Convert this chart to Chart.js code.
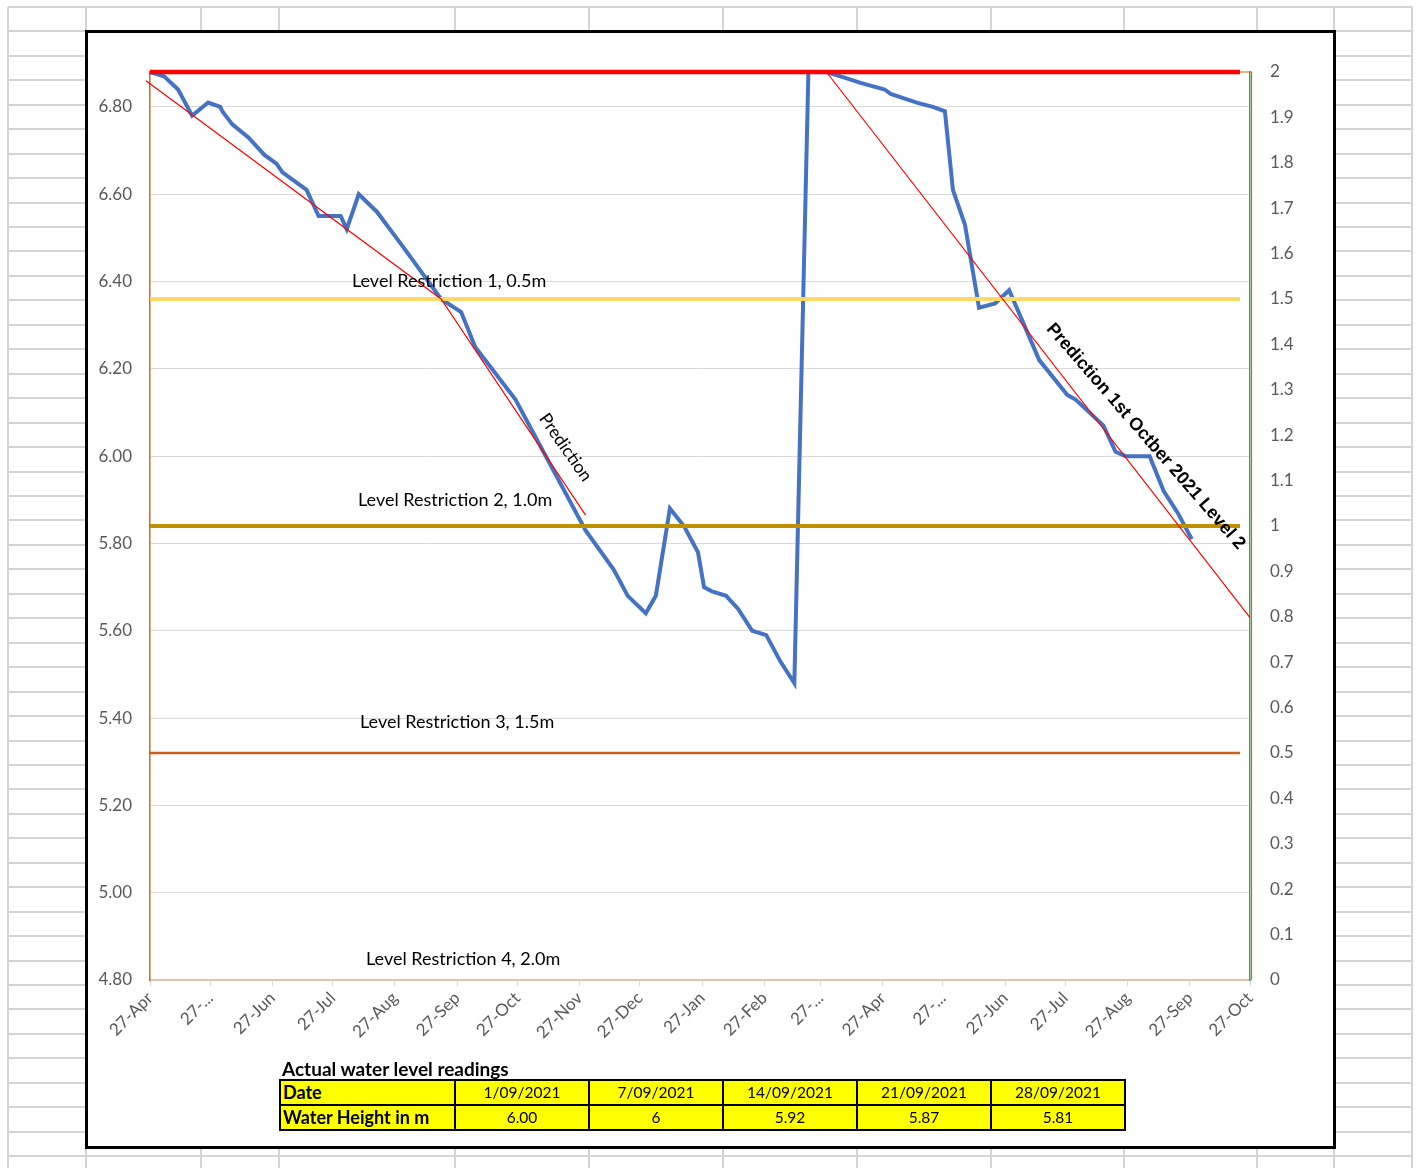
<!DOCTYPE html>
<html>
<head>
<meta charset="utf-8">
<title>Water level</title>
<script src="https://cdn.jsdelivr.net/npm/chart.js@4.4.0/dist/chart.umd.min.js"></script>
<style>
    html, body { margin: 0; padding: 0; background: #fff; }
    body { width: 1418px; height: 1168px; position: relative; overflow: hidden; font-family: Lato, "Noto Sans", sans-serif; }
    #sheet { position: absolute; left: 0; top: 0; }
    #frame { position: absolute; left: 85px; top: 30px; width: 1251px; height: 1119px; border: 3px solid #000; box-sizing: border-box; background: #fff; }
    #chartBox { position: absolute; left: 0; top: 0; width: 1245px; height: 1030px; }
    #tableTitle { position: absolute; left: 194px; top: 1024px; font-weight: bold; font-size: 19px; color: #000; }
    #readings { position: absolute; left: 191px; top: 1046px; border-collapse: collapse; font-size: 15.5px; table-layout: fixed; width: 845px; }
    #readings td { background: #ffff00; border: 2px solid #000; height: 23px; padding: 0 2px; text-align: center; line-height: 21px; overflow: hidden; white-space: nowrap; }
    #readings td.head { text-align: left; font-weight: bold; font-size: 18px; width: 169px; }
    #readings td.val { width: 128px; }
</style>
</head>
<body>
<canvas id="sheet" width="1418" height="1168"></canvas>
<div id="frame">
    <div id="chartBox"><canvas id="levelChart"></canvas></div>
    <div id="tableTitle">Actual water level readings</div>
    <table id="readings">
        <tr id="dateRow"><td class="head">Date</td></tr>
        <tr id="heightRow"><td class="head">Water Height in m</td></tr>
    </table>
</div>

<script>
// readings of the dam (left axis, metres)
const startDate = '2020-04-27';
const readingDates = [
    '2020-04-27', '2020-05-04', '2020-05-11', '2020-05-18', '2020-05-26', '2020-06-01', '2020-06-02',
    '2020-06-07', '2020-06-15', '2020-06-23', '2020-06-29', '2020-07-02', '2020-07-14', '2020-07-20',
    '2020-07-31', '2020-08-03', '2020-08-09', '2020-08-18', '2020-08-31', '2020-09-19', '2020-09-29',
    '2020-10-06', '2020-10-26', '2020-11-30', '2020-12-14', '2020-12-21', '2020-12-30', '2021-01-04',
    '2021-01-11', '2021-01-18', '2021-01-25', '2021-01-28', '2021-02-01', '2021-02-08', '2021-02-14',
    '2021-02-21', '2021-02-28', '2021-03-07', '2021-03-14', '2021-03-21', '2021-03-30', '2021-04-06',
    '2021-04-16', '2021-04-28', '2021-05-01', '2021-05-14', '2021-05-22', '2021-05-28', '2021-06-01',
    '2021-06-07', '2021-06-14', '2021-06-22', '2021-06-29', '2021-07-14', '2021-07-28', '2021-08-01',
    '2021-08-15', '2021-08-21', '2021-08-26', '2021-09-01', '2021-09-07', '2021-09-14', '2021-09-21',
    '2021-09-28'
];
const waterLevels = [
    6.88, 6.87, 6.84, 6.78, 6.81, 6.80, 6.79,
    6.76, 6.73, 6.69, 6.67, 6.65, 6.61, 6.55,
    6.55, 6.52, 6.60, 6.56, 6.48, 6.36, 6.33,
    6.25, 6.13, 5.83, 5.74, 5.68, 5.64, 5.68,
    5.88, 5.84, 5.78, 5.70, 5.69, 5.68, 5.65,
    5.60, 5.59, 5.53, 5.48, 6.88, 6.88, 6.87,
    6.855, 6.84, 6.83, 6.81, 6.80, 6.79, 6.61,
    6.53, 6.34, 6.35, 6.38, 6.22, 6.14, 6.13,
    6.07, 6.01, 6.00, 6.00, 6.00, 5.92, 5.87,
    5.81
];

// restriction levels (right axis)
const levelDates = ['2020-04-27', '2021-10-22'];
const levelTop = [2, 2];
const level1 = [1.5, 1.5];
const level2 = [1, 1];
const level3 = [0.5, 0.5];

// hand drawn prediction lines
const pred1Dates = ['2020-04-25', '2020-09-19', '2020-11-30'];
const pred1Values = [6.86, 6.36, 5.865];
const pred2Dates = ['2021-03-30', '2021-10-27'];
const pred2Values = [6.88, 5.63];

// axes
const monthTicks = [
    '2020-04-27', '2020-05-27', '2020-06-27', '2020-07-27', '2020-08-27', '2020-09-27', '2020-10-27',
    '2020-11-27', '2020-12-27', '2021-01-27', '2021-02-27', '2021-03-27', '2021-04-27', '2021-05-27',
    '2021-06-27', '2021-07-27', '2021-08-27', '2021-09-27', '2021-10-27'
];
const monthLabels = [
    '27-Apr', '27-...', '27-Jun', '27-Jul', '27-Aug', '27-Sep', '27-Oct', '27-Nov', '27-Dec', '27-Jan',
    '27-Feb', '27-...', '27-Apr', '27-...', '27-Jun', '27-Jul', '27-Aug', '27-Sep', '27-Oct'
];
const leftTicks = [4.8, 5.0, 5.2, 5.4, 5.6, 5.8, 6.0, 6.2, 6.4, 6.6, 6.8];
const rightTicks = [0, 0.1, 0.2, 0.3, 0.4, 0.5, 0.6, 0.7, 0.8, 0.9, 1, 1.1, 1.2, 1.3, 1.4, 1.5, 1.6, 1.7, 1.8, 1.9, 2];

// table under the chart
const tableDates = ['1/09/2021', '7/09/2021', '14/09/2021', '21/09/2021', '28/09/2021'];
const tableHeights = ['6.00', '6', '5.92', '5.87', '5.81'];

function dayOf(s) {
    return (Date.parse(s) - Date.parse(startDate)) / 86400000;
}
function toPoints(dates, values) {
    return dates.map((d, i) => ({ x: dayOf(d), y: values[i] }));
}

// spreadsheet grid behind the chart
const sheet = document.getElementById('sheet').getContext('2d');
sheet.strokeStyle = '#d4d4d4';
sheet.lineWidth = 2;
const colX = [8, 86, 201, 279, 455, 589, 723, 857, 991, 1124, 1257, 1334, 1412];
colX.forEach(x => {
    sheet.beginPath(); sheet.moveTo(x, 7); sheet.lineTo(x, 1168); sheet.stroke();
});
for (let y = 7; y < 1168; y += 24.45) {
    const yy = Math.round(y);
    sheet.beginPath(); sheet.moveTo(8, yy); sheet.lineTo(1412, yy); sheet.stroke();
}

// fill the table
tableDates.forEach((d, i) => {
    let td = document.createElement('td');
    td.className = 'val'; td.textContent = d;
    document.getElementById('dateRow').appendChild(td);
    td = document.createElement('td');
    td.className = 'val'; td.textContent = tableHeights[i];
    document.getElementById('heightRow').appendChild(td);
});

// text boxes placed on the chart
const notes = [
    { text: 'Level Restriction 1, 0.5m', date: '2020-09-23', axis: 'y2', value: 1.54, angle: 0, font: '18px Lato' },
    { text: 'Level Restriction 2, 1.0m', date: '2020-09-26', axis: 'y2', value: 1.057, angle: 0, font: '18px Lato' },
    { text: 'Level Restriction 3, 1.5m', date: '2020-09-27', axis: 'y2', value: 0.568, angle: 0, font: '18px Lato' },
    { text: 'Level Restriction 4, 2.0m', date: '2020-09-30', axis: 'y2', value: 0.046, angle: 0, font: '18px Lato' },
    { text: 'Prediction', date: '2020-11-20', axis: 'y', value: 6.02, angle: 55, font: '17.5px Lato' },
    { text: 'Prediction 1st Octber 2021 Level 2', date: '2021-09-05', axis: 'y', value: 6.045, angle: 49, font: 'bold 18px "Liberation Sans"' }
];

const notesPlugin = {
    id: 'notes',
    afterDatasetsDraw(chart) {
        const { ctx, scales, chartArea } = chart;
        ctx.save();
        // orange edge on the right side
        ctx.strokeStyle = '#d9641c';
        ctx.lineWidth = 1.2;
        ctx.beginPath();
        ctx.moveTo(scales.x.getPixelForValue(dayOf('2021-10-22')), chartArea.top);
        ctx.lineTo(chartArea.right + 1.5, chartArea.top);
        ctx.lineTo(chartArea.right + 1.5, chartArea.bottom);
        ctx.stroke();
        notes.forEach(n => {
            const x = scales.x.getPixelForValue(dayOf(n.date));
            const y = scales[n.axis].getPixelForValue(n.value);
            ctx.save();
            ctx.translate(x, y);
            ctx.rotate(n.angle * Math.PI / 180);
            ctx.font = n.font;
            ctx.fillStyle = '#000';
            ctx.textAlign = 'center';
            ctx.textBaseline = 'middle';
            ctx.fillText(n.text, 0, 0);
            ctx.restore();
        });
        ctx.restore();
    }
};

Chart.defaults.font.family = 'Lato';
Chart.defaults.font.size = 17;
Chart.defaults.color = '#595959';

const lineSet = (label, data, color, width, axis) => ({
    label: label,
    data: data,
    borderColor: color,
    borderWidth: width,
    yAxisID: axis,
    pointRadius: 0,
    tension: 0,
    fill: false,
    clip: false
});

const config = {
    type: 'line',
    data: {
        datasets: [
            lineSet('Prediction', toPoints(pred1Dates, pred1Values), '#ff0000', 1.2, 'y'),
            lineSet('Prediction 2', toPoints(pred2Dates, pred2Values), '#ff0000', 1.2, 'y'),
            lineSet('Top', toPoints(levelDates, levelTop), '#ff0000', 4.5, 'y2'),
            lineSet('Level 1', toPoints(levelDates, level1), '#ffd966', 4, 'y2'),
            lineSet('Level 2', toPoints(levelDates, level2), '#bf9000', 4, 'y2'),
            lineSet('Level 3', toPoints(levelDates, level3), '#c8601a', 2.5, 'y2'),
            lineSet('Water height', toPoints(readingDates, waterLevels), '#4472c4', 4, 'y')
        ]
    },
    options: {
        responsive: true,
        maintainAspectRatio: false,
        animation: false,
        layout: { padding: { top: 39, left: 0, right: 0, bottom: 0 } },
        plugins: {
            legend: { display: false },
            tooltip: { enabled: false }
        },
        scales: {
            x: {
                type: 'linear',
                min: 0,
                max: dayOf(monthTicks[monthTicks.length - 1]),
                afterBuildTicks: axis => { axis.ticks = monthTicks.map(d => ({ value: dayOf(d) })); },
                afterFit: axis => { axis.height = 83; },
                ticks: {
                    autoSkip: false,
                    minRotation: 45,
                    maxRotation: 45,
                    padding: 2,
                    callback: (v, i) => monthLabels[i]
                },
                grid: { drawOnChartArea: false, drawTicks: true, tickLength: 6, tickColor: '#d9d9d9' },
                border: { color: '#e2c2ac', width: 2 }
            },
            y: {
                position: 'left',
                min: 4.8,
                max: 6.88,
                afterBuildTicks: axis => { axis.ticks = leftTicks.map(v => ({ value: v })); },
                afterFit: axis => { axis.width = 62; },
                ticks: { padding: 18, callback: v => v.toFixed(2) },
                grid: { color: '#d9d9d9', drawTicks: false },
                border: { color: '#d9641c', width: 1.5 }
            },
            y2: {
                position: 'right',
                min: 0,
                max: 2,
                afterBuildTicks: axis => { axis.ticks = rightTicks.map(v => ({ value: v })); },
                afterFit: axis => { axis.width = 83; },
                ticks: { padding: 20, callback: v => String(+v.toFixed(1)) },
                grid: { drawOnChartArea: false, drawTicks: false },
                border: { color: '#2eaa4f', width: 1.5 }
            }
        }
    },
    plugins: [notesPlugin]
};

const myChart = new Chart(document.getElementById('levelChart'), config);
</script>
</body>
</html>
